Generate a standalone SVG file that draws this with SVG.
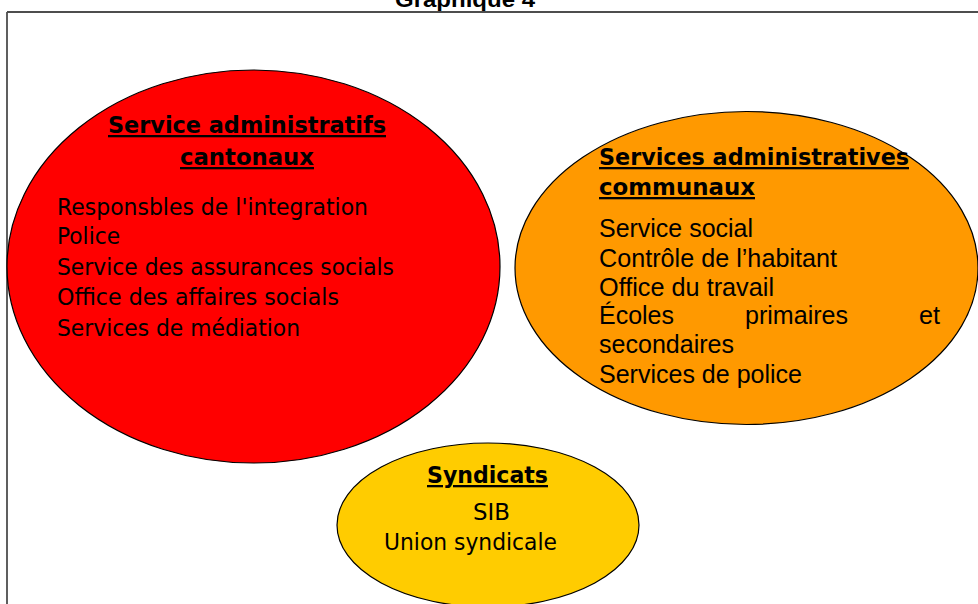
<svg xmlns="http://www.w3.org/2000/svg" width="978" height="604" viewBox="0 0 978 604">
<style>
.frame{stroke:#4d4d4d;stroke-width:1.8;fill:none}
.ell{stroke:#000;stroke-width:1.2}
.title{font-family:"Liberation Sans",Arial,sans-serif;font-weight:bold;font-size:22px;fill:#000}
.head{font-family:"DejaVu Sans",Verdana,sans-serif;font-weight:bold;font-size:23px;fill:#000;text-decoration:underline}
.tah{font-family:"DejaVu Sans",Verdana,sans-serif;font-size:23px;fill:#000}
.ari{font-family:"Liberation Sans",Arial,sans-serif;font-size:25px;fill:#000}
</style>
<rect width="978" height="604" fill="#fff"/>
<text class="title" x="395" y="7" textLength="140" lengthAdjust="spacingAndGlyphs">Graphique 4</text>
<g id="frame">
<line class="frame" x1="7" y1="12" x2="978" y2="12"/>
<line class="frame" x1="7" y1="12" x2="7" y2="604"/>
</g>
<g id="connectors"></g>
<g id="syndicats">
<ellipse class="ell" cx="488" cy="525" rx="151" ry="82" fill="#FFCC00"/>
<text class="head" x="427" y="483" textLength="121" lengthAdjust="spacingAndGlyphs">Syndicats</text>
<text class="tah" x="473" y="520" textLength="37" lengthAdjust="spacingAndGlyphs">SIB</text>
<text class="tah" x="384" y="550" textLength="173" lengthAdjust="spacingAndGlyphs">Union syndicale</text>
</g>
<g id="cantonaux">
<ellipse class="ell" cx="253.5" cy="266.5" rx="246.5" ry="196.5" fill="#FF0000"/>
<text class="head" x="108" y="133" textLength="278" lengthAdjust="spacingAndGlyphs">Service administratifs</text>
<text class="head" x="180" y="165" textLength="134" lengthAdjust="spacingAndGlyphs">cantonaux</text>
<text class="tah" x="57" y="215" textLength="311" lengthAdjust="spacingAndGlyphs">Responsbles de l'integration</text>
<text class="tah" x="57" y="244" textLength="63" lengthAdjust="spacingAndGlyphs">Police</text>
<text class="tah" x="57" y="275" textLength="337" lengthAdjust="spacingAndGlyphs">Service des assurances socials</text>
<text class="tah" x="57" y="305" textLength="282" lengthAdjust="spacingAndGlyphs">Office des affaires socials</text>
<text class="tah" x="57" y="336" textLength="243" lengthAdjust="spacingAndGlyphs">Services de médiation</text>
</g>
<g id="communaux">
<ellipse class="ell" cx="746.5" cy="268" rx="231.5" ry="156.5" fill="#FF9900"/>
<text class="head" x="599" y="165" textLength="310" lengthAdjust="spacingAndGlyphs">Services administratives</text>
<text class="head" x="599" y="195" textLength="156" lengthAdjust="spacingAndGlyphs">communaux</text>
<text class="ari" x="599" y="237" textLength="154" lengthAdjust="spacingAndGlyphs">Service social</text>
<text class="ari" x="599" y="267" textLength="238" lengthAdjust="spacingAndGlyphs">Contrôle de l’habitant</text>
<text class="ari" x="599" y="296" textLength="175" lengthAdjust="spacingAndGlyphs">Office du travail</text>
<text class="ari" x="599" y="324" textLength="75" lengthAdjust="spacingAndGlyphs">Écoles</text>
<text class="ari" x="745" y="324" textLength="103" lengthAdjust="spacingAndGlyphs">primaires</text>
<text class="ari" x="919" y="324" textLength="21" lengthAdjust="spacingAndGlyphs">et</text>
<text class="ari" x="599" y="353" textLength="135" lengthAdjust="spacingAndGlyphs">secondaires</text>
<text class="ari" x="599" y="383" textLength="203" lengthAdjust="spacingAndGlyphs">Services de police</text>
</g>
</svg>
